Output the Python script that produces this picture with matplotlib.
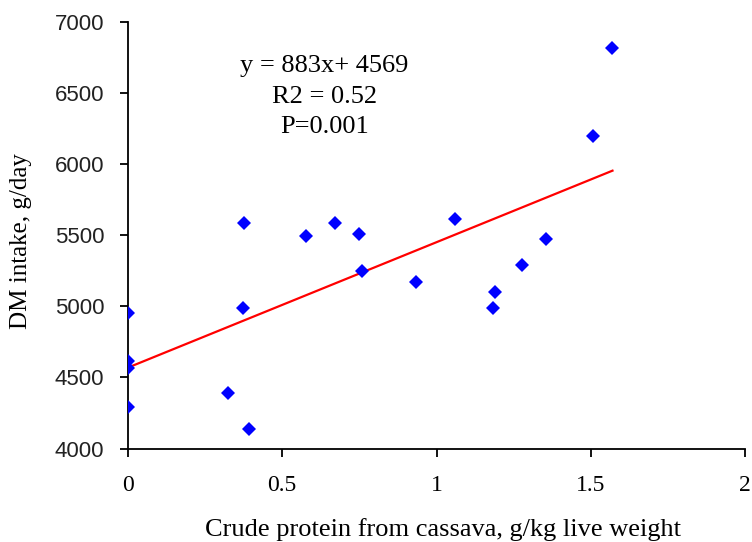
import matplotlib
matplotlib.use("Agg")
import matplotlib.pyplot as plt
import numpy as np

# crude protein from cassava (g/kg LW) and DM intake (g/day)
cp = [0, 0, 0, 0, 0.324, 0.391, 0.372, 0.375, 0.578, 0.671, 0.75, 0.757,
      0.934, 1.059, 1.184, 1.188, 1.278, 1.356, 1.506, 1.570]
dmi = [4955, 4617, 4564, 4290, 4388, 4137, 4986, 5588, 5494, 5588, 5511, 5248,
       5169, 5614, 4986, 5103, 5288, 5471, 6200, 6819]

slope = 883
intercept = 4569
fit_x = [0, 1.57]
eq_lines = ["y = 883x+ 4569", "R2 = 0.52", "P=0.001"]

plt.rcParams['font.family'] = ['Liberation Serif', 'DejaVu Serif']

fig = plt.figure(figsize=(7.52, 5.42), dpi=100)
ax = fig.add_axes([0.170, 0.1725, 0.821, 0.7865])

ax.plot(cp, dmi, "D", color="#0000FF", markersize=7, markeredgewidth=0, zorder=3)
fx = np.array(fit_x)
ax.plot(fx, slope * fx + intercept, color="#FF0000", linewidth=1.6, zorder=2)

ax.set_xlim(0, 2)
ax.set_ylim(4000, 7000)
ax.set_xticks([0, 0.5, 1, 1.5, 2])
ax.set_xticklabels(["0", "0.5", "1", "1.5", "2"])
ax.set_yticks(range(4000, 7001, 500))

ax.spines['right'].set_color('none')
ax.spines['top'].set_color('none')
ax.spines['left'].set_linewidth(1.3)
ax.spines['bottom'].set_linewidth(1.3)
ax.tick_params(axis='x', direction='out', length=6, width=1.3, pad=13, labelsize=17)
ax.tick_params(axis='y', direction='out', length=6, width=1.3, pad=11, labelsize=16)
for lab in ax.get_yticklabels():
    lab.set_fontfamily('Liberation Sans')
    lab.set_color('#222222')

ax.set_xlabel("Crude protein from cassava, g/kg live weight", fontsize=19, va='center')
ax.xaxis.set_label_coords(0.51, -0.191)
ax.set_ylabel("DM intake, g/day", fontsize=18, va='center')
ax.yaxis.set_label_coords(-0.173, 0.487)

for i, line in enumerate(eq_lines):
    ax.text(0.318, 0.897 - i * 0.0715, line, transform=ax.transAxes,
            ha="center", va="center", fontsize=19)

plt.savefig("out.png", dpi=100)
